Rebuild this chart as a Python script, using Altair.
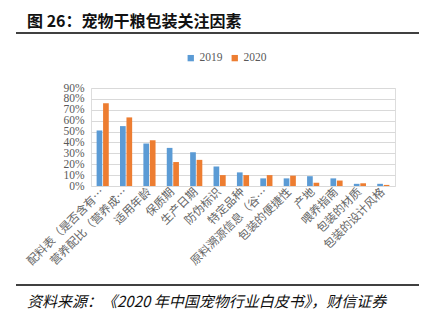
import altair as alt
import pandas as pd

categories = ["配料表（是否含有…", "营养配比（营养成…", "适用年龄", "保质期", "生产日期",
              "防伪标识", "特定品种", "原料溯源信息（谷…", "包装的便捷性", "产地",
              "喂养指南", "包装的材质", "包装的设计风格"]
v2019 = [0.51, 0.55, 0.39, 0.35, 0.31, 0.18, 0.125, 0.07, 0.07, 0.09, 0.07, 0.02, 0.02]
v2020 = [0.76, 0.63, 0.42, 0.22, 0.24, 0.10, 0.10, 0.10, 0.095, 0.03, 0.05, 0.025, 0.01]
years = ["2019", "2020"]
colors = ["#5B9BD5", "#ED7D31"]
y_ticks = [0.0, 0.1, 0.2, 0.3, 0.4, 0.5, 0.6, 0.7, 0.8, 0.9]
title_text = "图 26：宠物干粮包装关注因素"
source_text = "资料来源：《2020 年中国宠物行业白皮书》，财信证券"

rows = []
for c, a, b in zip(categories, v2019, v2020):
    rows.append({"cat": c, "year": "2019", "v": a})
    rows.append({"cat": c, "year": "2020", "v": b})
df = pd.DataFrame(rows)

W, H = 304, 98
PL, PT = 91, 88

bars = alt.Chart(df).mark_bar().encode(
    x=alt.X("cat:N", sort=categories, title=None,
            scale=alt.Scale(paddingInner=0.48, paddingOuter=0.24),
            axis=alt.Axis(labelAngle=-45, labelAlign="right", labelBaseline="middle",
                          labelFont="Noto Sans CJK SC", labelFontSize=11.5,
                          labelColor="#666666", ticks=False, domain=False,
                          labelPadding=4, labelLimit=200)),
    xOffset=alt.XOffset("year:N", sort=years, scale=alt.Scale(paddingInner=0.12)),
    y=alt.Y("v:Q", title=None,
            scale=alt.Scale(domain=[0, 0.9], nice=False),
            axis=alt.Axis(format=".0%", values=y_ticks, labelOverlap=False,
                          labelFont="Liberation Serif", labelFontSize=11.5,
                          labelColor="#595959", ticks=False, domain=False,
                          labelPadding=7, gridColor="#D9D9D9", gridWidth=1.2)),
    color=alt.Color("year:N", sort=years,
                    scale=alt.Scale(domain=years, range=colors),
                    legend=alt.Legend(title=None, orient="none", direction="horizontal",
                                      legendX=94, legendY=-36, symbolType="square",
                                      symbolSize=40, symbolStrokeWidth=0,
                                      labelFont="Liberation Serif", labelFontSize=11.5,
                                      labelColor="#595959", columnPadding=6,
                                      labelOffset=3)),
)

one = pd.DataFrame({"t": [title_text]})
title = alt.Chart(one).mark_text(
    align="left", baseline="middle", font="Noto Sans CJK SC", fontSize=16,
    fontWeight="bold", color="#111111"
).encode(text="t:N", x=alt.value(27 - PL), y=alt.value(22 - PT))

src = pd.DataFrame({"t": [source_text]})
source = alt.Chart(src).mark_text(
    align="left", baseline="middle", font="Noto Sans CJK SC", fontSize=15,
    fontStyle="italic", color="#111111"
).encode(text="t:N", x=alt.value(27 - PL), y=alt.value(302 - PT))

rule_top = alt.Chart(one).mark_rule(color="#404040", strokeWidth=2).encode(
    x=alt.value(16 - PL), x2=alt.value(419 - PL), y=alt.value(33 - PT))
rule_bot = alt.Chart(one).mark_rule(color="#404040", strokeWidth=2).encode(
    x=alt.value(16 - PL), x2=alt.value(419 - PL), y=alt.value(285 - PT))

chart = alt.layer(bars, title, source, rule_top, rule_bot).properties(
    width=W, height=H,
    autosize=alt.AutoSizeParams(type="none"),
    padding={"left": PL, "top": PT, "right": 424 - PL - W, "bottom": 321 - PT - H},
).configure_view(stroke=None).configure(background="white")

chart.save("out.html", embed_options={"renderer": "svg", "actions": False})
